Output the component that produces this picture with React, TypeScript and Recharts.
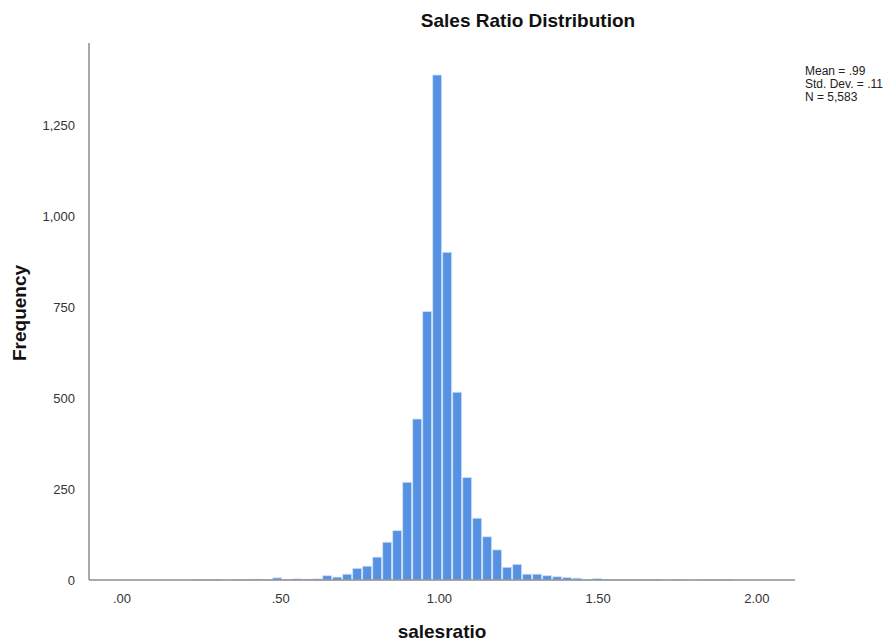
import React from 'react';
import { BarChart, Bar, XAxis, YAxis } from 'recharts';

// bin centres (salesratio) and frequencies
const binCenters = [
  0.2383, 0.2698, 0.3013, 0.3328, 0.3643, 0.3958, 0.4273, 0.4588, 0.4903, 0.5218,
  0.5533, 0.5848, 0.6163, 0.6478, 0.6793, 0.7108, 0.7423, 0.7738, 0.8053, 0.8368,
  0.8683, 0.8998, 0.9313, 0.9628, 0.9943, 1.0258, 1.0573, 1.0888, 1.1203, 1.1518,
  1.1833, 1.2148, 1.2463, 1.2778, 1.3093, 1.3408, 1.3723, 1.4038, 1.4353, 1.4668,
  1.4983, 1.5298, 1.5613, 1.5928, 1.6243, 1.6558, 1.6873, 1.7188, 1.7503, 1.7818,
  1.8133, 1.8448, 1.8763, 1.9078,
];
const frequencies = [
  1, 1, 1, 0, 1, 1, 2, 1, 6, 1,
  3, 2, 3, 12, 8, 16, 32, 38, 63, 104,
  136, 269, 443, 739, 1390, 902, 517, 282, 170, 119,
  83, 35, 43, 16, 16, 12, 9, 7, 5, 1,
  4, 1, 1, 1, 1, 1, 1, 0, 1, 0,
  0, 1, 1, 1,
];
const binWidth = 0.0315;
const xTicks = [0, 0.5, 1, 1.5, 2];
const yTicks = [0, 250, 500, 750, 1000, 1250];
const statLines = ['Mean = .99', 'Std. Dev. = .11', 'N = 5,583'];

const data = binCenters.map((x, i) => ({ x, count: frequencies[i] }));

const W = 896;
const H = 644;
const margin = { top: 43, right: 101, bottom: 34, left: 39 };
const yAxisWidth = 50;
const xAxisHeight = 30;
const xDomain: [number, number] = [-0.104, 2.12];
const plotWidth = W - margin.left - margin.right - yAxisWidth;
const barSize = (plotWidth / (xDomain[1] - xDomain[0])) * binWidth;

const font = '"Liberation Sans", Arial, sans-serif';

const fmtX = (v: number) => {
  const s = v.toFixed(2);
  return s.startsWith('0') ? s.slice(1) : s;
};
const fmtY = (v: number) => v.toLocaleString('en-US');

export default function App() {
  return (
    <div style={{ position: 'absolute', left: 0, top: 0, width: W, height: H, background: '#fff', fontFamily: font }}>
      <BarChart width={W} height={H} data={data} margin={margin} barCategoryGap={0} barGap={0}>
        <XAxis
          dataKey="x"
          type="number"
          domain={xDomain}
          ticks={xTicks}
          allowDataOverflow
          tickFormatter={fmtX}
          tickLine={false}
          tickMargin={8}
          height={xAxisHeight}
          stroke="#8c8c8c"
          strokeWidth={1.5}
          tick={{ fill: '#333', fontSize: 13, fontFamily: font }}
        />
        <YAxis
          type="number"
          domain={[0, 1478]}
          ticks={yTicks}
          tickFormatter={fmtY}
          tickLine={false}
          tickMargin={8}
          width={yAxisWidth}
          stroke="#8c8c8c"
          strokeWidth={1.5}
          tick={{ fill: '#333', fontSize: 13, fontFamily: font }}
        />
        <Bar
          dataKey="count"
          fill="#5592e4"
          stroke="#d6e5f9"
          strokeWidth={0.8}
          barSize={barSize}
          isAnimationActive={false}
        />
      </BarChart>
      <div style={{ position: 'absolute', left: 0, width: W - 160, top: 10, textAlign: 'center', paddingLeft: 160, fontSize: 19, fontWeight: 'bold', color: '#111' }}>
        Sales Ratio Distribution
      </div>
      <div style={{ position: 'absolute', left: 20, top: 313, transform: 'translate(-50%, -50%) rotate(-90deg)', fontSize: 19, fontWeight: 'bold', color: '#111', whiteSpace: 'nowrap' }}>
        Frequency
      </div>
      <div style={{ position: 'absolute', left: 442, top: 632, transform: 'translate(-50%, -50%)', fontSize: 19, fontWeight: 'bold', color: '#111', whiteSpace: 'nowrap' }}>
        salesratio
      </div>
      <div style={{ position: 'absolute', left: 805, top: 65, fontSize: 12, lineHeight: '13px', color: '#222', whiteSpace: 'nowrap' }}>
        {statLines.map((s) => (
          <div key={s}>{s}</div>
        ))}
      </div>
    </div>
  );
}
